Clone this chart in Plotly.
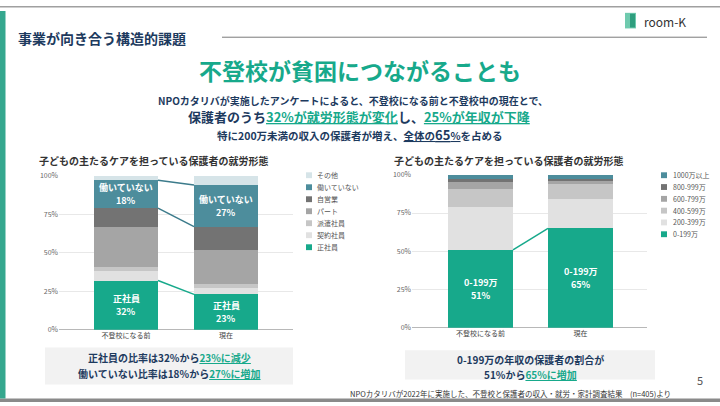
import plotly.graph_objects as go

W, H = 720, 406

# ---------------- data ----------------
periods = ["不登校になる前", "現在"]

# left chart: employment type of main carer (%), bottom -> top
emp_types = ["正社員", "契約社員", "派遣社員", "パート", "自営業", "働いていない", "その他"]
emp_before = [32, 6, 3, 26, 12, 18, 3]
emp_now = [23, 4, 3, 22, 15, 27, 6]

# right chart: annual income band (%), bottom -> top
inc_bands = ["0-199万", "200-399万", "400-599万", "600-799万", "800-999万", "1000万以上"]
inc_before = [51, 28, 12, 4, 2, 3]
inc_now = [65, 19, 10, 2.5, 0.5, 3]

y_ticks = [0, 25, 50, 75, 100]
y_tick_labels = ["0%", "25%", "50%", "75%", "100%"]

# ---------------- styles ----------------
TEAL = "#17a98b"
STEEL = "#4d8d9c"
NAVY = "#1d3a5e"
emp_colors = [TEAL, "#e1e1e1", "#c6c6c6", "#a5a5a5", "#737373", STEEL, "#d6e4e8"]
inc_colors = [TEAL, "#e1e1e1", "#c6c6c6", "#a5a5a5", "#737373", STEEL]
FONT = "Noto Sans CJK JP, Noto Sans, sans-serif"


def px(x, y):
    return x / W, 1 - y / H


fig = go.Figure()

LW = 0.64
RW = 0.65
for name, b, n, c in zip(emp_types, emp_before, emp_now, emp_colors):
    fig.add_trace(go.Bar(x=[0, 1], y=[b, n], name=name, marker=dict(color=c, line=dict(width=0)),
                         width=LW, xaxis="x", yaxis="y", showlegend=False, hoverinfo="skip"))
for name, b, n, c in zip(inc_bands, inc_before, inc_now, inc_colors):
    fig.add_trace(go.Bar(x=[0, 1], y=[b, n], name=name, marker=dict(color=c, line=dict(width=0)),
                         width=RW, xaxis="x2", yaxis="y2", showlegend=False, hoverinfo="skip"))


def cum(vals, i):
    return sum(vals[: i + 1])


# connectors
iw = emp_types.index("働いていない")
for yb, yn in [(cum(emp_before, iw), cum(emp_now, iw)), (cum(emp_before, iw - 1), cum(emp_now, iw - 1))]:
    fig.add_trace(go.Scatter(x=[LW / 2, 1 - LW / 2], y=[yb, yn], mode="lines",
                             line=dict(color="#3c7b8b", width=1.5), xaxis="x", yaxis="y",
                             showlegend=False, hoverinfo="skip"))
fig.add_trace(go.Scatter(x=[LW / 2, 1 - LW / 2], y=[cum(emp_before, 0), cum(emp_now, 0)], mode="lines",
                         line=dict(color=TEAL, width=1.5), xaxis="x", yaxis="y",
                         showlegend=False, hoverinfo="skip"))
fig.add_trace(go.Scatter(x=[RW / 2, 1 - RW / 2], y=[cum(inc_before, 0), cum(inc_now, 0)], mode="lines",
                         line=dict(color=TEAL, width=1.5), xaxis="x2", yaxis="y2",
                         showlegend=False, hoverinfo="skip"))

ann = []
PX_PER_PCT_L = (332 - 174) / 100
PX_PER_PCT_R = (330 - 173) / 100


def bar_label(i, mid, name, val, xref, yref, ppp):
    off = 6.6 / ppp  # half of line spacing, in % units
    ann.append(dict(x=i, y=mid + off, xref=xref, yref=yref, showarrow=False, text=f"<b>{name}</b>",
                    font=dict(family=FONT, size=9, color="white"), borderpad=0))
    ann.append(dict(x=i, y=mid - off, xref=xref, yref=yref, showarrow=False, text=f"<b>{val:g}%</b>",
                    font=dict(family=FONT, size=9, color="white"), borderpad=0))


for i, vals in enumerate([emp_before, emp_now]):
    for k in [0, iw]:
        mid = sum(vals[:k]) + vals[k] / 2
        bar_label(i, mid, emp_types[k], vals[k], "x", "y", PX_PER_PCT_L)
for i, vals in enumerate([inc_before, inc_now]):
    bar_label(i, vals[0] / 2, inc_bands[0], vals[0], "x2", "y2", PX_PER_PCT_R)

shapes = []


# manual legends
def legend(names, colors, sq_x, txt_x, y0, dy):
    for j, (nm, c) in enumerate(zip(reversed(names), reversed(colors))):
        yc = y0 + j * dy
        x0, y1 = px(sq_x, yc - 3)
        x1, y2 = px(sq_x + 6, yc + 3)
        shapes.append(dict(type="rect", xref="paper", yref="paper", x0=x0, x1=x1, y0=y2, y1=y1,
                           fillcolor=c, line=dict(width=0)))
        tx, ty = px(txt_x, yc)
        ann.append(dict(x=tx, y=ty, xref="paper", yref="paper", xanchor="left", yanchor="middle",
                        showarrow=False, text=nm, borderpad=0,
                        font=dict(family=FONT, size=7, color="#555")))


legend(emp_types, emp_colors, 306, 316, 173.5, 12.3)
legend(inc_bands, inc_colors, 661, 672, 173.5, 12.1)


def text(x, y, s, size, color=NAVY, anchor="center", bold=True):
    tx, ty = px(x, y)
    ann.append(dict(x=tx, y=ty, xref="paper", yref="paper", xanchor=anchor, yanchor="middle",
                    showarrow=False, text=(f"<b>{s}</b>" if bold else s), borderpad=0,
                    font=dict(family=FONT, size=size, color=color)))


def hl(s):
    return f"<span style='color:{TEAL};text-decoration:underline'>{s}</span>"


# slide decorations
def rect(x0, y0, x1, y1, color):
    a, b = px(x0, y0)
    c, d = px(x1, y1)
    shapes.append(dict(type="rect", xref="paper", yref="paper", x0=a, x1=c, y0=d, y1=b,
                       fillcolor=color, line=dict(width=0), layer="below"))


rect(0, 0, 720, 1.5, "#a0a0a0")
rect(0, 402.5, 720, 406, "#8a8a8a")
rect(0, 5, 5.5, 402.5, "#35a78e")
rect(45, 350, 293, 388, "#f2f2f2")
rect(405, 353, 655, 383, "#f2f2f2")
# header rule
a, b = px(222, 32)
c, d = px(707, 32)
shapes.append(dict(type="line", xref="paper", yref="paper", x0=a, x1=c, y0=b, y1=d,
                   line=dict(color="#7a7a7a", width=1)))
# logo door
rect(625, 7, 636, 23, "#6fcaae")
rect(630, 8, 635, 22, "#2e9e7e")

text(17, 33, "事業が向き合う構造的課題", 14, anchor="left")
text(643, 16, "room-K", 12, color="#333", anchor="left", bold=False)
text(360, 66, "不登校が貧困につながることも", 23, color=TEAL)
text(353, 97, "NPOカタリバが実施したアンケートによると、不登校になる前と不登校中の現在とで、", 10)
text(359, 113, "保護者のうち" + hl("32%が就労形態が変化") + "し、" + hl("25%が年収が下降"), 13)
text(360, 132, "特に200万未満の収入の保護者が増え、<span style='text-decoration:underline'>全体の<span style='font-size:13px'>65</span>%</span>を占める", 10.5)
text(38, 158, "子どもの主たるケアを担っている保護者の就労形態", 10, color="#333", anchor="left")
text(393, 158, "子どもの主たるケアを担っている保護者の就労形態", 10, color="#333", anchor="left")
text(169, 360, "正社員の比率は32%から" + hl("23%に減少"), 10)
text(169, 377, "働いていない比率は18%から" + hl("27%に増加"), 10)
text(530, 362, "0-199万の年収の保護者の割合が", 10)
text(530, 378, "51%から" + hl("65%に増加"), 10)
text(672, 397, "NPOカタリバが2022年に実施した、不登校と保護者の収入・就労・家計調査結果　(n=405)より",
     7.5, color="#333", anchor="right", bold=False)
text(700, 383, "5", 11, color="#555", bold=False)


def xax(dom, rng, anchor):
    return dict(domain=dom, range=rng, tickvals=[0, 1], ticktext=periods, showgrid=False, anchor=anchor,
                zeroline=False, showline=False, ticks="", fixedrange=True,
                tickfont=dict(family=FONT, size=7, color="#444"))


def yax(dom, anchor):
    return dict(domain=dom, range=[0, 100], tickvals=y_ticks, ticktext=y_tick_labels, anchor=anchor,
                showgrid=True, gridcolor="#e8e8e8", gridwidth=1, zeroline=True, zerolinecolor="#b8b8b8",
                zerolinewidth=1, ticks="", fixedrange=True,
                tickfont=dict(family=FONT, size=7, color="#666"))


fig.update_layout(
    width=W, height=H, autosize=False,
    margin=dict(l=0, r=0, t=0, b=0, pad=0),
    paper_bgcolor="white", plot_bgcolor="white",
    barmode="stack", showlegend=False,
    xaxis=xax([59 / W, 293 / W], [-(126 - 59) / 100, 1 + (293 - 226) / 100], "y"),
    yaxis=yax([1 - 332 / H, 1 - 174 / H], "x"),
    xaxis2=xax([412 / W, 647 / W], [-(480.5 - 412) / 100, 1 + (647 - 580.5) / 100], "y2"),
    yaxis2=yax([1 - 330 / H, 1 - 173 / H], "x2"),
    annotations=ann, shapes=shapes,
    font=dict(family=FONT),
)

fig.write_html("out.html", config={"displayModeBar": False},
               post_script="document.body.style.margin='0';document.body.style.padding='0';"
                           "document.body.style.overflow='hidden';")
